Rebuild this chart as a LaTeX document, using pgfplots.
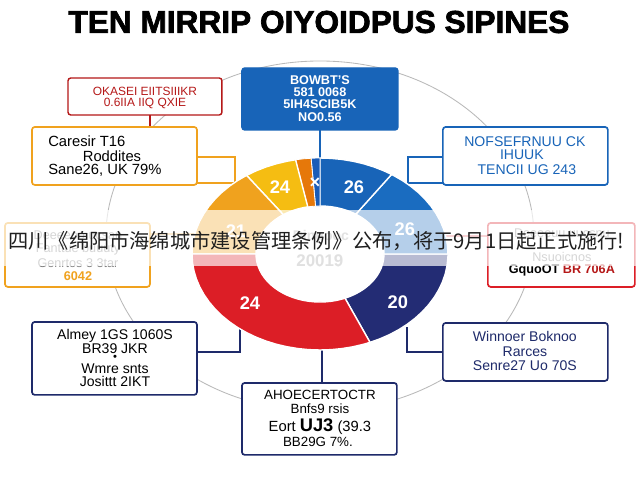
\documentclass[border=0pt]{standalone}
\usepackage{pgfplots}
\pgfplotsset{compat=1.18}
\usepackage{fontspec}
\setmainfont{Liberation Sans}
\newfontfamily\cjk{Noto Sans CJK SC}
\newfontfamily\titlefont{Liberation Sans Bold}[FakeBold=2.2]
\definecolor{cnavy}{HTML}{232C74}
\definecolor{bnavy}{HTML}{1E2A6A}
\definecolor{cblue}{HTML}{1864B8}
\definecolor{cblueb}{HTML}{1A6CC0}
\definecolor{csliver}{HTML}{1A5CB8}
\definecolor{cdorange}{HTML}{E6780A}
\definecolor{cyellow}{HTML}{F5BD12}
\definecolor{corange}{HTML}{F0A21E}
\definecolor{cred}{HTML}{DC1E26}
\definecolor{dred}{HTML}{B51818}
\newcommand{\fs}[1]{\fontsize{#1}{#1}\selectfont}
\begin{document}
\begin{tikzpicture}
\useasboundingbox (0,0) rectangle (16cm,12cm);
\fill[white] (0,0) rectangle (16cm,12cm);
% ---------- background layer (pixel coordinates) ----------
\begin{scope}[shift={(0cm,12cm)},x=0.025cm,y=-0.025cm]
  \draw[gray!55, line width=0.6pt] (320,236) ellipse [x radius=214, y radius=175];
  % connectors
  \draw[cblue, line width=1pt] (320,130) -- (320,158);
  \draw[dred, line width=1pt] (150,115) -- (150,127);
  \draw[corange, line width=1pt] (197,157) -- (235,157) -- (235,183) -- (197,183);
  \draw[cblue, line width=1pt] (443,157) -- (408,157) -- (408,183) -- (443,183);
  \draw[corange!60, line width=0.8pt] (150,234) -- (240,234);
  \draw[cred!60, line width=0.8pt] (440,236) -- (488,236);
  \draw[bnavy, line width=1pt] (197,352) -- (240,352) -- (240,318);
  \draw[bnavy, line width=1pt] (443,352) -- (407,352) -- (407,327);
  \draw[bnavy, line width=1pt] (322,312) -- (322,383);
  % boxes
  \draw[cblue, fill=cblue, rounded corners=2pt, line width=1pt] (242,68) rectangle (398,130);
  \draw[dred, fill=white, rounded corners=2pt, line width=1pt] (68,78) rectangle (222,115);
  \draw[corange, fill=white, rounded corners=2pt, line width=1.2pt] (32,127) rectangle (197,185);
  \draw[cblue, fill=white, rounded corners=2pt, line width=1.2pt] (443,127) rectangle (608,185);
  \draw[corange, fill=white, rounded corners=2pt, line width=1.2pt] (5,223) rectangle (150,287);
  \draw[cred, fill=white, rounded corners=2pt, line width=1.2pt] (488,223) rectangle (635,287);
  \draw[bnavy, fill=white, rounded corners=2pt, line width=1.2pt] (32,322) rectangle (197,395);
  \draw[bnavy, fill=white, rounded corners=2pt, line width=1.2pt] (443,323) rectangle (608,381);
  \draw[bnavy, fill=white, rounded corners=2pt, line width=1.2pt] (242,383) rectangle (397,455);
  % box texts
  \begin{scope}[every node/.style={inner sep=0pt}]
  \node[text=white, font=\fs{9}\bfseries] at (320,80) {BOWBT'S};
  \node[text=white, font=\fs{9}\bfseries] at (320,92) {581 0068};
  \node[text=white, font=\fs{9}\bfseries] at (320,104) {5IH4SCIB5K};
  \node[text=white, font=\fs{9}\bfseries] at (320,117) {NO0.56};
  \node[text=dred, font=\fs{8.5}] at (145,91) {OKASEI EIITSIIIKR};
  \node[text=dred, font=\fs{8.5}] at (145,103) {0.6IIA IIQ QXIE};
  \node[text=black, font=\fs{10.5}, anchor=west] at (48,141) {Caresir T16};
  \node[text=black, font=\fs{10.5}] at (112,156) {Roddites};
  \node[text=black, font=\fs{10.5}, anchor=west] at (48,170) {Sane26, UK 79\%};
  \node[text=cblue, font=\fs{10}] at (525,142) {NOFSEFRNUU CK};
  \node[text=cblue, font=\fs{10}] at (522,155) {IHUUK};
  \node[text=cblue, font=\fs{10}] at (527,170) {TENCII UG 243};
  \node[text=gray, font=\fs{9}] at (78,235) {Deeeeoo ucsan};
  \node[text=gray, font=\fs{9}] at (78,249) {Fanttue buuuty};
  \node[text=gray, font=\fs{9}] at (78,263) {Genrtos 3 3tar};
  \node[text=corange, font=\fs{9}\bfseries] at (78,276) {6042};
  \node[text=gray, font=\fs{9}] at (562,233) {Deeeeuu uucsnu};
  \node[text=gray, font=\fs{9}] at (562,257) {Nsuoicnos};
  \node[font=\fs{9}\bfseries] at (562,270) {GquoOT \textcolor{dred}{BR 706A}};
  \node[text=black, font=\fs{10}] at (115,336) {Almey 1GS 1060S};
  \node[text=black, font=\fs{10}] at (115,349) {BR39 JKR};
  \node[text=black, font=\fs{8}] at (115,358) {•};
  \node[text=black, font=\fs{10}] at (115,369) {Wmre snts};
  \node[text=black, font=\fs{10}] at (115,382) {Josittt 2IKT};
  \node[text=bnavy, font=\fs{10}] at (525,337) {Winnoer Boknoo};
  \node[text=bnavy, font=\fs{10}] at (525,352) {Rarces};
  \node[text=bnavy, font=\fs{10}] at (525,366) {Senre27 Uo 70S};
  \node[text=black, font=\fs{9.5}] at (320,395) {AHOECERTOCTR};
  \node[text=black, font=\fs{9.5}] at (320,409) {Bnfs9 rsis};
  \node[text=black, font=\fs{10.5}] at (320,427) {Eort \textbf{\fs{13}UJ3} (39.3};
  \node[text=black, font=\fs{9.5}] at (318,442) {BB29G 7\%.};
  \end{scope}
\end{scope}
% ---------- donut ----------
\begin{axis}[at={(8cm,5.65cm)}, anchor=center, scale only axis,
  width=6.4cm, height=4.8cm, xmin=-1, xmax=1, ymin=-1, ymax=1,
  hide axis, clip=false]
\addplot[data cs=polar, fill=cnavy, draw=white, line width=1pt] coordinates {
 (-67,1) (-62,1) (-57,1) (-52,1) (-47,1) (-42,1) (-37,1) (-32,1) (-27,1) (-22,1) (-17,1) (-12,1) (-7,1) (-2,1) (0,1)
 (0,0.5) (-2,0.5) (-7,0.5) (-12,0.5) (-17,0.5) (-22,0.5) (-27,0.5) (-32,0.5) (-37,0.5) (-42,0.5) (-47,0.5) (-52,0.5) (-57,0.5) (-62,0.5) (-67,0.5)
} --cycle;
\addplot[data cs=polar, fill=cblueb, draw=white, line width=1pt] coordinates {
 (0,1) (5,1) (10,1) (15,1) (20,1) (25,1) (30,1) (35,1) (40,1) (45,1) (50,1) (55,1) (56,1)
 (56,0.5) (55,0.5) (50,0.5) (45,0.5) (40,0.5) (35,0.5) (30,0.5) (25,0.5) (20,0.5) (15,0.5) (10,0.5) (5,0.5) (0,0.5)
} --cycle;
\addplot[data cs=polar, fill=cblue, draw=white, line width=1pt] coordinates {
 (56,1) (60,1) (65,1) (70,1) (75,1) (80,1) (85,1) (90,1)
 (90,0.5) (85,0.5) (80,0.5) (75,0.5) (70,0.5) (65,0.5) (60,0.5) (56,0.5)
} --cycle;
\addplot[data cs=polar, fill=csliver, draw=white, line width=0.6pt] coordinates {
 (90,1) (92,1) (94,1) (94,0.5) (92,0.5) (90,0.5)
} --cycle;
\addplot[data cs=polar, fill=cdorange, draw=white, line width=0.6pt] coordinates {
 (94,1) (97.5,1) (101,1) (101,0.5) (97.5,0.5) (94,0.5)
} --cycle;
\addplot[data cs=polar, fill=cyellow, draw=white, line width=1pt] coordinates {
 (101,1) (105,1) (110,1) (115,1) (120,1) (125,1)
 (125,0.5) (120,0.5) (115,0.5) (110,0.5) (105,0.5) (101,0.5)
} --cycle;
\addplot[data cs=polar, fill=corange, draw=white, line width=1pt] coordinates {
 (125,1) (130,1) (135,1) (140,1) (145,1) (150,1) (155,1) (160,1) (165,1) (170,1) (175,1) (180,1)
 (180,0.5) (175,0.5) (170,0.5) (165,0.5) (160,0.5) (155,0.5) (150,0.5) (145,0.5) (140,0.5) (135,0.5) (130,0.5) (125,0.5)
} --cycle;
\addplot[data cs=polar, fill=cred, draw=white, line width=1pt] coordinates {
 (180,1) (185,1) (190,1) (195,1) (200,1) (205,1) (210,1) (215,1) (220,1) (225,1) (230,1) (235,1) (240,1) (245,1) (250,1) (255,1) (260,1) (265,1) (270,1) (275,1) (280,1) (285,1) (290,1) (293,1)
 (293,0.5) (290,0.5) (285,0.5) (280,0.5) (275,0.5) (270,0.5) (265,0.5) (260,0.5) (255,0.5) (250,0.5) (245,0.5) (240,0.5) (235,0.5) (230,0.5) (225,0.5) (220,0.5) (215,0.5) (210,0.5) (205,0.5) (200,0.5) (195,0.5) (190,0.5) (185,0.5) (180,0.5)
} --cycle;
\end{axis}
% ---------- foreground layer ----------
\begin{scope}[shift={(0cm,12cm)},x=0.025cm,y=-0.025cm]
  \begin{scope}[every node/.style={inner sep=0pt, text=white, font=\fs{13}\bfseries}]
  \node at (280,187) {24};
  \node at (354,187) {26};
  \node at (315,183) {×};
  \node at (236,231) {21};
  \node at (405,229) {26};
  \node at (250,303) {24};
  \node at (398,302) {20};
  \end{scope}
  \node[inner sep=0pt, text=gray!70, font=\fs{10}\bfseries] at (321,236) {Dinuooc};
  \node[inner sep=0pt, text=gray!75, font=\fs{12}\bfseries] at (320,261) {20019};
  % banner
  \fill[white, opacity=0.68] (0,210) rectangle (640,266);
  \node[inner sep=0pt, anchor=west, text=black!88, font=\cjk\fs{14.4}] at (8,241) {四川《绵阳市海绵城市建设管理条例》公布，将于9月1日起正式施行!};
  % title
  \node[inner sep=0pt, text=black, font=\titlefont\fs{22.5}] at (319,22) {TEN MIRRIP OIYOIDPUS SIPINES};
\end{scope}
\end{tikzpicture}
\end{document}
